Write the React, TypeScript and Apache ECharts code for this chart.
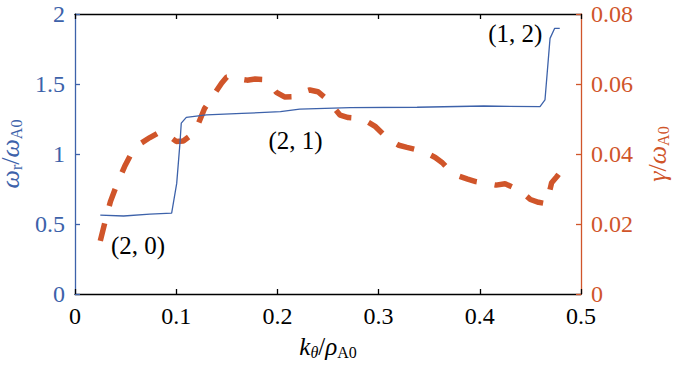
import React, { useEffect, useRef } from "react";
import * as echarts from "echarts";

const xTicks = [0, 0.1, 0.2, 0.3, 0.4, 0.5];

const kOmega = [0.025, 0.048, 0.074, 0.0955, 0.1005, 0.1037, 0.105, 0.11, 0.13, 0.165, 0.203, 0.222, 0.272, 0.338, 0.404, 0.4595, 0.4644, 0.4694, 0.474, 0.479];
const omegaR = [0.564, 0.557, 0.571, 0.578, 0.79, 1.076, 1.22, 1.262, 1.279, 1.29, 1.302, 1.321, 1.331, 1.334, 1.343, 1.338, 1.386, 1.826, 1.898, 1.898];

const kGamma = [0.025, 0.03, 0.035, 0.042, 0.049, 0.055, 0.062, 0.074, 0.084, 0.091, 0.1, 0.107, 0.113, 0.12, 0.128, 0.138, 0.145, 0.15, 0.157, 0.163, 0.17, 0.178, 0.186, 0.193, 0.199, 0.207, 0.216, 0.224, 0.232, 0.24, 0.25, 0.256, 0.262, 0.27, 0.28, 0.289, 0.297, 0.304, 0.311, 0.32, 0.328, 0.338, 0.348, 0.356, 0.363, 0.371, 0.379, 0.388, 0.396, 0.406, 0.416, 0.425, 0.435, 0.442, 0.45, 0.458, 0.466, 0.471, 0.476, 0.481];
const gamma = [0.0152, 0.021, 0.0264, 0.0318, 0.0364, 0.0398, 0.0425, 0.0447, 0.0463, 0.0455, 0.0436, 0.0437, 0.045, 0.0473, 0.053, 0.0573, 0.0603, 0.062, 0.0622, 0.0614, 0.0611, 0.0614, 0.0613, 0.0598, 0.0576, 0.0563, 0.0564, 0.0576, 0.0583, 0.0578, 0.0554, 0.0532, 0.0511, 0.0504, 0.0502, 0.0492, 0.0478, 0.0458, 0.044, 0.0425, 0.0419, 0.0412, 0.0402, 0.039, 0.0375, 0.035, 0.0337, 0.0328, 0.0321, 0.0316, 0.0311, 0.0315, 0.0302, 0.029, 0.027, 0.0262, 0.0258, 0.0318, 0.0335, 0.0354];

const annText = ["(2, 0)", "(2, 1)", "(1, 2)"];
const annK = [0.0623, 0.218, 0.435];
const annW = [0.35, 1.1, 1.864];

const BLUE = "#3d62aa";
const ORANGE = "#d0552a";
const FONT = "'Liberation Serif', 'Times New Roman', serif";

export default function App() {
  const ref = useRef<HTMLDivElement>(null);
  useEffect(() => {
    if (!ref.current) return;
    const chart = echarts.init(ref.current, undefined, { renderer: "svg" });
    const richFor = (color: string, main: number) => ({
      i: { fontStyle: "italic", fontSize: main, lineHeight: 24, color, fontFamily: FONT },
      n: { fontSize: main, lineHeight: 24, color, fontFamily: FONT },
      si: { fontStyle: "italic", fontSize: 16, lineHeight: 12, padding: [12, 0, 0, 0], color, fontFamily: FONT },
      s: { fontSize: 16, lineHeight: 12, padding: [12, 0, 0, 0], color, fontFamily: FONT },
    });
    chart.setOption({
      animation: false,
      textStyle: { fontFamily: FONT },
      grid: { left: 75, right: 119, top: 14, bottom: 76, outerBoundsMode: "none", containLabel: false },
      xAxis: [
        {
          type: "value",
          min: 0,
          max: 0.5,
          interval: 0.1,
          position: "bottom",
          axisLine: { onZero: false, lineStyle: { color: "#000", width: 1.3 } },
          axisTick: { inside: true, length: 5, lineStyle: { color: "#000", width: 1.3 } },
          axisLabel: { color: "#000", fontSize: 24, fontFamily: FONT, margin: 10, formatter: (v: number) => String(xTicks.find((t) => Math.abs(t - v) < 1e-9) ?? v) },
          splitLine: { show: false },
          name: "{i|k}{si|θ}{n|/}{i|ρ}{s|A0}",
          nameLocation: "middle",
          nameGap: 39,
          nameTextStyle: { fontFamily: FONT, rich: richFor("#000", 25) },
        },
        {
          type: "value",
          min: 0,
          max: 0.5,
          interval: 0.1,
          position: "top",
          axisLine: { onZero: false, lineStyle: { color: "#000", width: 1.3 } },
          axisTick: { inside: true, length: 5, lineStyle: { color: "#000", width: 1.3 } },
          axisLabel: { show: false },
          splitLine: { show: false },
        },
      ],
      yAxis: [
        {
          type: "value",
          min: 0,
          max: 2,
          interval: 0.5,
          position: "left",
          axisLine: { show: true, onZero: false, lineStyle: { color: BLUE, width: 1.3 } },
          axisTick: { show: true, inside: true, length: 5, lineStyle: { color: BLUE, width: 1.3 } },
          axisLabel: { color: BLUE, fontSize: 24, fontFamily: FONT, margin: 10 },
          splitLine: { show: false },
          name: "{i|ω}{s|r}{n|/}{i|ω}{s|A0}",
          nameLocation: "middle",
          nameRotate: 90,
          nameGap: 41,
          nameTextStyle: { fontFamily: FONT, rich: richFor(BLUE, 26) },
        },
        {
          type: "value",
          min: 0,
          max: 0.08,
          interval: 0.02,
          position: "right",
          axisLine: { show: true, onZero: false, lineStyle: { color: ORANGE, width: 1.3 } },
          axisTick: { show: true, inside: true, length: 5, lineStyle: { color: ORANGE, width: 1.3 } },
          axisLabel: { color: ORANGE, fontSize: 24, fontFamily: FONT, margin: 10 },
          splitLine: { show: false },
          name: "{i|γ}{n|/}{i|ω}{s|A0}",
          nameLocation: "middle",
          nameRotate: 90,
          nameGap: 64,
          nameTextStyle: { fontFamily: FONT, rich: richFor(ORANGE, 26) },
        },
      ],
      series: [
        {
          type: "line",
          xAxisIndex: 0,
          yAxisIndex: 0,
          data: kOmega.map((k, i) => [k, omegaR[i]]),
          showSymbol: false,
          lineStyle: { color: BLUE, width: 1.3 },
          z: 3,
          markPoint: {
            symbol: "circle",
            symbolSize: 0,
            label: { show: true, position: "inside", color: "#000", fontSize: 25, fontFamily: FONT, formatter: (p: any) => p.name },
            data: annText.map((t, i) => ({ name: t, coord: [annK[i], annW[i]] })),
          },
        },
        {
          type: "line",
          xAxisIndex: 0,
          yAxisIndex: 1,
          data: kGamma.map((k, i) => [k, gamma[i]]),
          showSymbol: false,
          lineStyle: { color: ORANGE, width: 5.5, type: [18, 18] },
          z: 2,
        },
      ],
    });
    return () => chart.dispose();
  }, []);
  return <div ref={ref} style={{ position: "absolute", left: 0, top: 0, width: 700, height: 370, background: "#fff" }} />;
}
